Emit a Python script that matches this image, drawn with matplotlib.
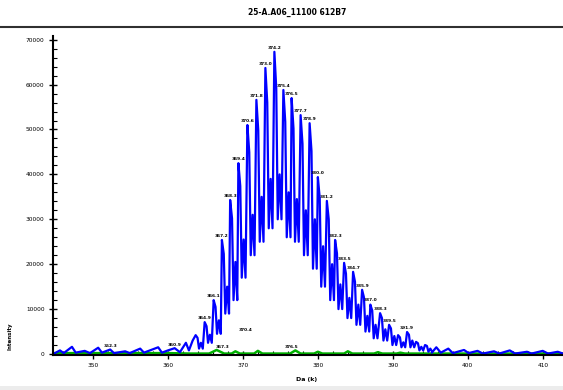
import numpy as np
import matplotlib.pyplot as plt

# title / axis text
title = "25-A.A06_11100 612B7"
x_label = "Da (k)"
y_label = "Intensity"

# tick values
x_ticks = [350, 360, 370, 380, 390, 400, 410]
y_ticks = [0, 10000, 20000, 30000, 40000, 50000, 60000, 70000]

# main envelope: apex, shoulder, minor peak and valley heights of each period
peak_mz = [363.7, 364.9, 366.1, 367.2, 368.3, 369.4, 370.6, 371.8, 373.0,
           374.2, 375.4, 376.5, 377.7, 378.9, 380.0, 381.2, 382.3, 383.5,
           384.7, 385.9, 387.0, 388.3, 389.5, 390.7, 391.9, 393.1, 394.3]
peak_int = [4200, 7100, 12000, 25400, 34300, 42500, 51000, 56600, 63700,
            67300, 58800, 57000, 53200, 51400, 39400, 34100, 25400, 20300,
            18300, 14300, 11000, 9100, 6500, 4200, 4900, 2700, 2000]
shoulder_int = [3600, 6200, 10500, 22300, 30200, 37400, 44900, 49800, 56000,
                59200, 51700, 50200, 46800, 45200, 34700, 30000, 22400, 17900,
                16100, 12600, 9700, 8000, 5700, 3700, 4300, 2400, 1800]
minor_int = [2500, 4300, 7500, 15000, 20500, 25500, 31000, 35000, 39000,
             40000, 36000, 34500, 32000, 30000, 24000, 20000, 15500, 12500,
             11000, 8500, 6500, 5500, 4000, 2600, 3000, 1600, 1200]
valley_int = [1200, 2500, 4500, 9000, 12000, 17000, 22000, 25000, 28000,
              30000, 26000, 25000, 22000, 19000, 15000, 12000, 10000, 8000,
              6500, 5000, 3500, 3000, 2000, 1500, 1500, 800, 500]

# baseline noise of the blue trace
left_mz = [344.7, 345.6, 346.1, 347.2, 347.7, 348.9, 349.6, 350.7, 351.2,
           352.3, 352.8, 354.3, 354.9, 356.3, 356.8, 357.9, 358.7, 359.2,
           360.0, 360.9, 361.6, 362.4, 362.8, 363.3]
left_int = [0, 800, 200, 1600, 300, 700, 200, 1400, 300,
            1000, 200, 600, 200, 1200, 300, 1000, 1500, 300,
            800, 1300, 400, 2500, 800, 3000]
right_mz = [395.2, 395.8, 396.4, 397.4, 398.0, 399.5, 400.1, 401.3, 402.0,
            403.5, 404.2, 405.6, 406.3, 407.9, 408.5, 410.0, 410.7, 412.0, 412.7]
right_int = [300, 1500, 300, 1200, 200, 900, 200, 700, 100,
             600, 100, 800, 100, 500, 100, 700, 100, 500, 100]

# green trace
green_mz = [344.7, 360.0, 363.0, 365.5, 366.5, 367.5, 368.5, 369.0, 369.6,
            371.5, 372.0, 372.6, 376.3, 377.0, 377.7, 379.5, 380.0, 380.6,
            383.5, 384.0, 384.6, 387.5, 388.0, 388.6, 390.5, 391.0, 391.6,
            395.0, 412.7]
green_int = [200, 200, 100, 100, 900, 100, 100, 600, 100,
             100, 700, 100, 100, 800, 100, 100, 500, 100,
             100, 600, 100, 100, 400, 100, 100, 300, 100,
             100, 100]

# which blue peaks carry a label, and extra labels near the baseline
labelled = [1, 2, 3, 4, 5, 6, 7, 8, 9, 10, 11, 12, 13, 14, 15, 16, 17,
            18, 19, 20, 21, 22, 24]
base_label_mz = [352.3, 360.9, 367.3, 370.4, 376.5]
base_label_int = [1300, 1600, 1200, 4800, 1200]

# build the profile line
bx = list(left_mz)
by = list(left_int)
for m, a, s, n, v in zip(peak_mz, peak_int, shoulder_int, minor_int, valley_int):
    bx += [m, m + 0.25, m + 0.45, m + 0.7, m + 0.95]
    by += [a, s, v, n, v]
bx += right_mz
by += right_int

fig = plt.figure(figsize=(5.63, 3.90), dpi=100)
ax = fig.add_axes([53 / 563, 1 - 355 / 390, 1 - 53 / 563, (355 - 36) / 390])

ax.plot(green_mz, green_int, color='#00b000', lw=1.8)
ax.plot(bx, by, color='#0000ff', lw=1.6)

for i in labelled:
    ax.text(peak_mz[i], peak_int[i] + 500, f"{peak_mz[i]:.1f}", fontsize=3.2,
            fontweight='bold', ha='center', va='bottom')
for m, v in zip(base_label_mz, base_label_int):
    ax.text(m, v, f"{m:.1f}", fontsize=3.2, fontweight='bold',
            ha='center', va='bottom')

ax.set_xlim(344.67, 412.7)
ax.set_ylim(-220, 70820)
ax.set_xticks(x_ticks)
ax.set_xticks(np.arange(346, 413, 2), minor=True)
ax.set_yticks(y_ticks)
ax.set_yticks(np.arange(0, 70001, 2000), minor=True)
ax.set_xticklabels([str(t) for t in x_ticks])
ax.set_yticklabels([str(t) for t in y_ticks])
ax.tick_params(which='major', direction='inout', length=6, width=1,
               labelsize=4.2, pad=3)
ax.tick_params(which='minor', direction='in', length=3, width=0.8)
ax.spines['top'].set_visible(False)
ax.spines['right'].set_visible(False)
ax.spines['left'].set_linewidth(1.5)
ax.spines['bottom'].set_linewidth(1.5)

fig.text(297 / 563, 1 - 12 / 390, title, fontsize=5.5, fontweight='bold',
         ha='center', va='center')
fig.text(307 / 563, 1 - 380 / 390, x_label, fontsize=4.5, fontweight='bold',
         ha='center', va='center')
fig.text(10 / 563, 1 - 336 / 390, y_label, fontsize=4, fontweight='bold',
         rotation=90, ha='center', va='center')
fig.add_artist(plt.Line2D([0, 1], [1 - 27 / 390, 1 - 27 / 390],
                          color='#303030', lw=1.5))
fig.add_artist(plt.Rectangle((0, 0), 1, 4 / 390, color='#ececec', lw=0))

fig.savefig('out.png', dpi=100)
